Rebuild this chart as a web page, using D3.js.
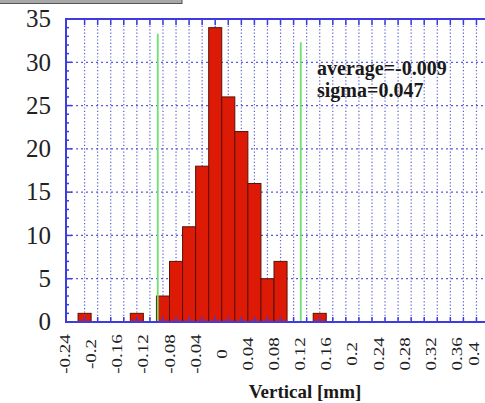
<!DOCTYPE html>
<html lang="en">
<head>
<meta charset="UTF-8">
<title>Vertical histogram</title>
<style>
  body { margin: 0; background: #fff; }
  svg { display: block; }
  .ylab { font: 25px "Liberation Serif", "Times New Roman", serif; fill: #222; }
  .xlab { font: 19px "Liberation Serif", "Times New Roman", serif; fill: #222; }
  .title { font: bold 19px "Liberation Serif", "Times New Roman", serif; fill: #1a1a1a; }
  .note { font: bold 20px "Liberation Serif", "Times New Roman", serif; fill: #1a1a1a; }
  .vgrid { stroke: #3f3fd0; stroke-width: 1.2; stroke-dasharray: 1.2,2.2; opacity: 0.85; }
  .hgrid { stroke: #3f3fd0; stroke-width: 1.2; stroke-dasharray: 2,3; opacity: 0.85; }
  .bar { fill: #dc1a06; stroke: #5a1208; stroke-width: 1; }
  .limit { stroke: #70e070; stroke-width: 1.8; }
  .axis { stroke: #3c3ce0; stroke-width: 2; fill: none; }
  .tick { stroke: #3c3ce0; stroke-width: 1.5; }
</style>
</head>
<body>
<script src="https://d3js.org/d3.v7.min.js"></script>
<script>
// histogram bins (left edge, bin width 0.02 mm) and their counts
var binStart = [-0.22, -0.14, -0.10, -0.08, -0.06, -0.04, -0.02, 0.00, 0.02, 0.04, 0.06, 0.08, 0.14];
var counts   = [1, 1, 3, 7, 11, 18, 34, 26, 22, 16, 5, 7, 1];
var binWidth = 0.02;

// green limit lines: position and height
var limitX   = [-0.098, 0.121];
var limitTop = [33.3, 32.3];

// axis ticks
var xTicks  = [-0.24, -0.2, -0.16, -0.12, -0.08, -0.04, 0, 0.04, 0.08, 0.12, 0.16, 0.2, 0.24, 0.28, 0.32, 0.36, 0.4];
var xLabels = ["-0.24", "-0.2", "-0.16", "-0.12", "-0.08", "-0.04", "0", "0.04", "0.08", "0.12", "0.16", "0.2", "0.24", "0.28", "0.32", "0.36", "0.4"];
var yTicks  = [0, 5, 10, 15, 20, 25, 30, 35];
var notes   = ["average=-0.009", "sigma=0.047"];

var W = 485, H = 403;
var plot = { left: 66, top: 19, bottom: 322, right: 485 };

var x = d3.scaleLinear().domain([-0.24, 0.4]).range([65, 483]);
var y = d3.scaleLinear().domain([0, 35]).range([plot.bottom, plot.top]);

var svg = d3.select("body").append("svg")
    .attr("width", W)
    .attr("height", H);

// leftover frame edge at the top of the picture
svg.append("rect").attr("x", 0).attr("y", 0).attr("width", 182).attr("height", 3).attr("fill", "#a8a8a8");
svg.append("line").attr("x1", 0).attr("x2", 182).attr("y1", 3.5).attr("y2", 3.5).attr("stroke", "#555").attr("stroke-width", 1);
svg.append("line").attr("x1", 182).attr("x2", 182).attr("y1", 0).attr("y2", 4).attr("stroke", "#555").attr("stroke-width", 1);

svg.append("clipPath").attr("id", "clip")
  .append("rect")
    .attr("x", plot.left).attr("y", plot.top)
    .attr("width", plot.right - plot.left).attr("height", plot.bottom - plot.top);

var g = svg.append("g").attr("clip-path", "url(#clip)");

// vertical grid sits on bin centres
var gridX = d3.range(-0.21, 0.395, 0.02);
g.selectAll(".vgrid").data(gridX).enter().append("line")
    .attr("class", "vgrid")
    .attr("x1", function (d) { return x(d); })
    .attr("x2", function (d) { return x(d); })
    .attr("y1", plot.top)
    .attr("y2", plot.bottom);

g.selectAll(".hgrid").data(yTicks.slice(1, -1)).enter().append("line")
    .attr("class", "hgrid")
    .attr("x1", plot.left)
    .attr("x2", plot.right)
    .attr("y1", function (d) { return y(d); })
    .attr("y2", function (d) { return y(d); });

// bars
g.selectAll(".bar").data(counts).enter().append("rect")
    .attr("class", "bar")
    .attr("x", function (d, i) { return x(binStart[i]); })
    .attr("width", function (d, i) { return x(binStart[i] + binWidth) - x(binStart[i]); })
    .attr("y", function (d) { return y(d); })
    .attr("height", function (d) { return y(0) - y(d); });

// limit lines
g.selectAll(".limit").data(limitX).enter().append("line")
    .attr("class", "limit")
    .attr("x1", function (d) { return x(d); })
    .attr("x2", function (d) { return x(d); })
    .attr("y1", function (d, i) { return y(limitTop[i]); })
    .attr("y2", y(0));

// tick marks: inward, top and bottom on bin centres, left every unit
g.selectAll(".ttop").data(gridX).enter().append("line")
    .attr("class", "tick")
    .attr("x1", function (d) { return x(d); })
    .attr("x2", function (d) { return x(d); })
    .attr("y1", plot.top).attr("y2", plot.top + 6);
g.selectAll(".tbot").data(gridX).enter().append("line")
    .attr("class", "tick")
    .attr("x1", function (d) { return x(d); })
    .attr("x2", function (d) { return x(d); })
    .attr("y1", plot.bottom).attr("y2", plot.bottom - 5);
g.selectAll(".tleft").data(d3.range(0, 36)).enter().append("line")
    .attr("class", "tick")
    .attr("x1", plot.left)
    .attr("x2", function (d) { return plot.left + (d % 5 === 0 ? 6 : 3); })
    .attr("y1", function (d) { return y(d); })
    .attr("y2", function (d) { return y(d); });

// frame
svg.append("path")
    .attr("class", "axis")
    .attr("d", "M" + plot.right + "," + plot.top + "H" + plot.left + "V" + plot.bottom + "H" + plot.right);

// y labels
svg.selectAll(".ylab").data(yTicks).enter().append("text")
    .attr("class", "ylab")
    .attr("x", 51)
    .attr("y", function (d) { return y(d); })
    .attr("dy", "0.33em")
    .attr("text-anchor", "end")
    .text(function (d) { return d; });

// x labels, rotated (last one pulled in so it stays inside the picture)
svg.selectAll(".xlab").data(xTicks).enter().append("text")
    .attr("class", "xlab")
    .attr("text-anchor", "middle")
    .attr("dy", "0.33em")
    .attr("transform", function (d) { return "translate(" + Math.min(x(d), 474) + ",354) rotate(-90) scale(1,0.8)"; })
    .text(function (d, i) { return xLabels[i]; });

svg.append("text")
    .attr("class", "title")
    .attr("x", 305)
    .attr("y", 398)
    .attr("text-anchor", "middle")
    .text("Vertical [mm]");

svg.selectAll(".note").data(notes).enter().append("text")
    .attr("class", "note")
    .attr("x", 317)
    .attr("y", function (d, i) { return 75 + i * 22; })
    .text(function (d) { return d; });
</script>
</body>
</html>
